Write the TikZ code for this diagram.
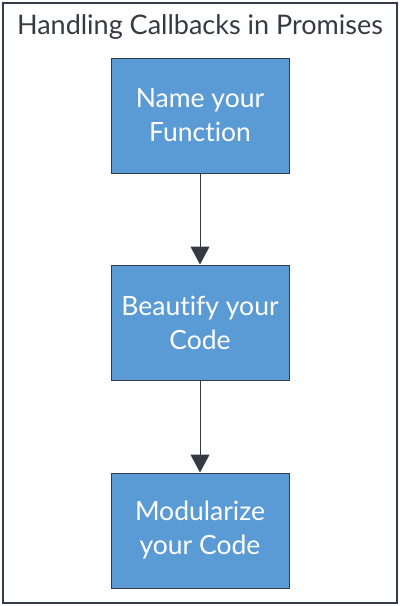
\documentclass[tikz,border=0pt]{standalone}
\usepackage{fontspec}
\setmainfont{Lato}[Ligatures=NoCommon]
\usetikzlibrary{arrows.meta}
\definecolor{boxblue}{HTML}{5B9BD5}
\definecolor{darkline}{HTML}{353B42}
\tikzset{
  stepbox/.style={draw=darkline, line width=1pt, fill=boxblue, minimum width=178pt, minimum height=115pt, inner sep=0pt, text=white, align=center, font=\fontsize{26.5}{34}\selectfont},
  conn/.style={draw=darkline, line width=1pt, -{Triangle[length=18pt,width=19pt]}},
}
\begin{document}
\begin{tikzpicture}[x=1pt,y=1pt]
\useasboundingbox (0,0) rectangle (400,-606);
\draw[darkline, line width=2pt] (3,-3) rectangle (397,-603);
\node[text=darkline, font=\fontsize{27}{30}\selectfont] (title) at (200,-27) {Handling Callbacks in Promises};
\node[stepbox] (a) at (200,-115.5) {Name your\\Function};
\node[stepbox] (b) at (200,-322.5) {Beautify your\\Code};
\node[stepbox] (c) at (200,-530.5) {Modularize\\your Code};
\draw[conn] (a) -- (b);
\draw[conn] (b) -- (c);
\end{tikzpicture}
\end{document}
